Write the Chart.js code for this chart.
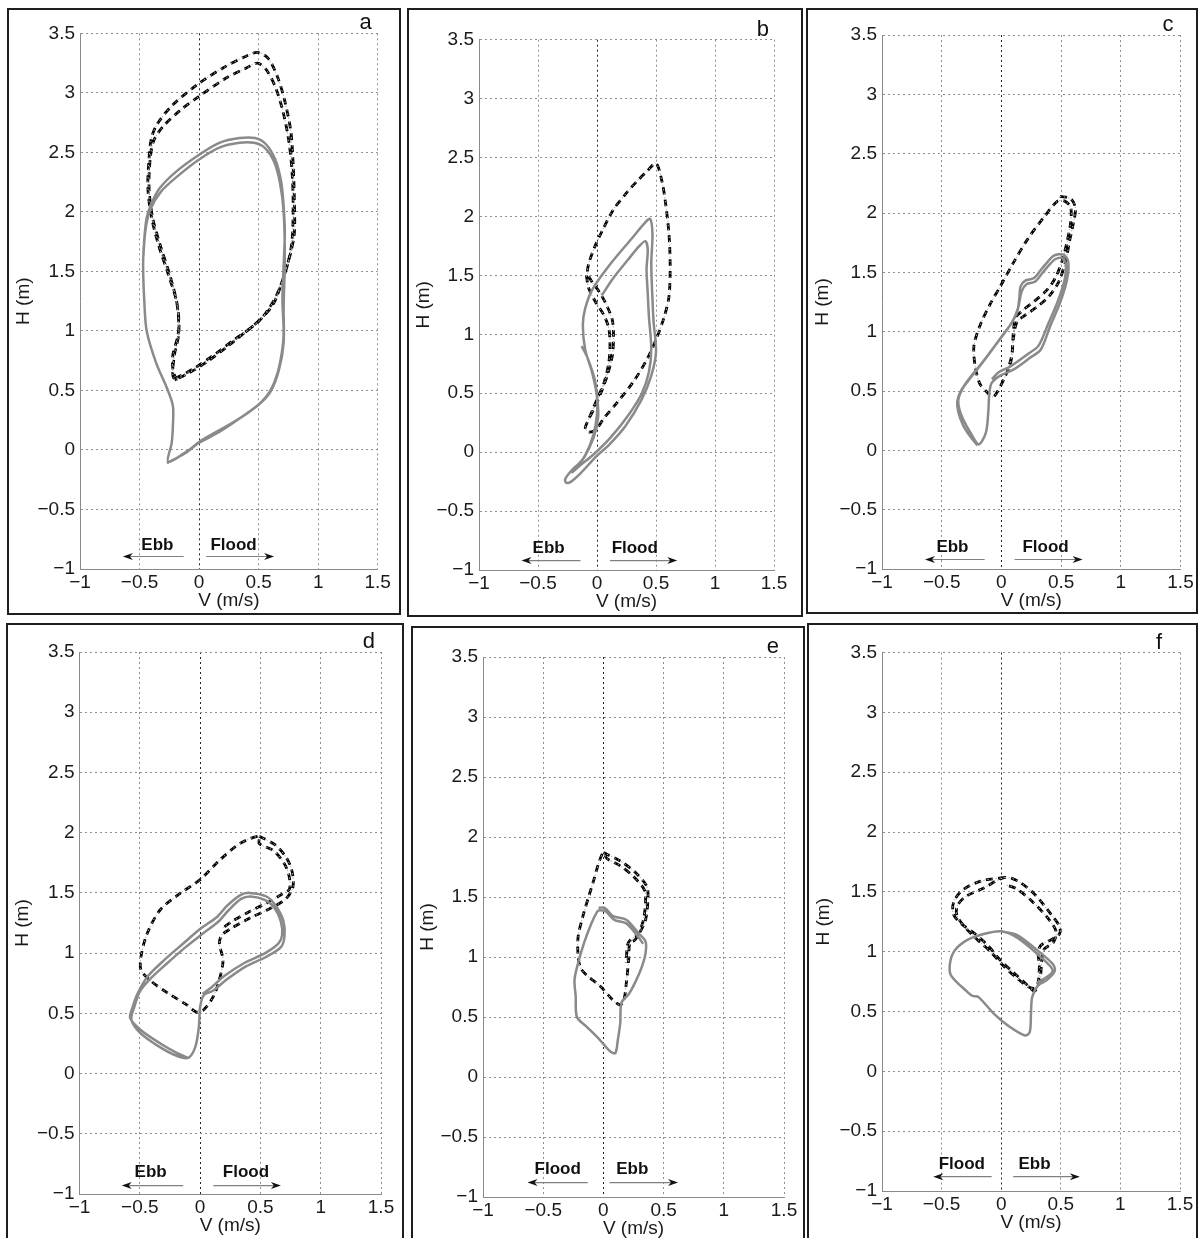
<!DOCTYPE html>
<html>
<head>
<meta charset="utf-8">
<script src="https://cdn.jsdelivr.net/npm/chart.js@4.4.1/dist/chart.umd.min.js"></script>
<style>
  body { margin: 0; background: #fff; width: 1203px; height: 1238px; position: relative; overflow: hidden; }
  canvas { position: absolute; }
  .frame { position: absolute; border: 2px solid #1e1e1e; box-sizing: border-box; pointer-events: none; }
</style>
</head>
<body>
<canvas id="ca"></canvas><canvas id="cb"></canvas><canvas id="cc"></canvas>
<canvas id="cd"></canvas><canvas id="ce"></canvas><canvas id="cf"></canvas>
<div class="frame" style="left:7px;top:8px;width:394px;height:607px"></div>
<div class="frame" style="left:407px;top:8px;width:396px;height:609px"></div>
<div class="frame" style="left:806px;top:8px;width:392px;height:606px"></div>
<div class="frame" style="left:6px;top:623px;width:398px;height:630px"></div>
<div class="frame" style="left:411px;top:626px;width:394px;height:630px"></div>
<div class="frame" style="left:807px;top:623px;width:391px;height:630px"></div>
<script>
// tick labels
const xTicks = ['−1', '−0.5', '0', '0.5', '1', '1.5'];
const yTicks = ['−1', '−0.5', '0', '0.5', '1', '1.5', '2', '2.5', '3', '3.5'];

// each curve is [V (m/s), H (m)]
// panel a
const aGray = [[-0.27,-0.11],[-0.12,-0.03],[0.0,0.06],[0.15,0.14],[0.29,0.23],[0.42,0.32],[0.52,0.4],[0.6,0.5],[0.66,0.65],[0.7,0.85],[0.71,1.0],[0.7,1.27],[0.71,1.55],[0.72,1.82],[0.71,2.05],[0.69,2.25],[0.64,2.44],[0.56,2.57],[0.47,2.62],[0.34,2.62],[0.17,2.58],[0.0,2.48],[-0.19,2.34],[-0.33,2.2],[-0.4,2.07],[-0.44,1.95],[-0.46,1.77],[-0.47,1.55],[-0.46,1.25],[-0.44,1.0],[-0.36,0.73],[-0.27,0.52],[-0.22,0.37],[-0.22,0.2],[-0.23,0.06],[-0.26,-0.1],[-0.1,-0.01],[0.02,0.08],[0.3,0.24],[0.5,0.38],[0.6,0.49],[0.67,0.67],[0.71,0.9],[0.71,1.2],[0.72,1.6],[0.71,2.0],[0.68,2.24],[0.63,2.42],[0.55,2.54],[0.46,2.58],[0.34,2.58],[0.17,2.54],[0.0,2.44],[-0.18,2.3],[-0.32,2.17],[-0.41,2.02],[-0.45,1.85],[-0.47,1.6]];
const aBlack = [[-0.19,0.58],[-0.22,0.68],[-0.22,0.8],[-0.18,0.95],[-0.17,1.05],[-0.19,1.25],[-0.26,1.48],[-0.34,1.72],[-0.4,1.96],[-0.43,2.2],[-0.42,2.45],[-0.4,2.62],[-0.35,2.74],[-0.22,2.9],[0.0,3.08],[0.22,3.22],[0.4,3.31],[0.49,3.34],[0.58,3.29],[0.66,3.13],[0.72,2.93],[0.77,2.68],[0.79,2.4],[0.8,2.1],[0.8,1.82],[0.76,1.62],[0.7,1.42],[0.62,1.22],[0.5,1.08],[0.4,1.0],[0.24,0.87],[0.08,0.75],[-0.08,0.65],[-0.21,0.6],[-0.21,0.78],[-0.17,0.98],[-0.18,1.2],[-0.24,1.45],[-0.32,1.7],[-0.39,1.95],[-0.42,2.2],[-0.41,2.45],[-0.38,2.6],[-0.3,2.72],[-0.15,2.86],[0.0,2.97],[0.22,3.12],[0.4,3.21],[0.49,3.25],[0.56,3.2],[0.64,3.05],[0.7,2.86],[0.75,2.62],[0.78,2.35],[0.79,2.05],[0.78,1.75],[0.74,1.55],[0.66,1.32],[0.56,1.15],[0.44,1.03],[0.3,0.93],[0.14,0.81],[-0.05,0.68],[-0.2,0.6]];

// panel b
const bGray = [[0.04,1.33],[0.14,1.48],[0.26,1.63],[0.36,1.75],[0.41,1.79],[0.43,1.72],[0.42,1.55],[0.43,1.35],[0.44,1.15],[0.46,0.88],[0.44,0.68],[0.38,0.5],[0.27,0.32],[0.12,0.13],[-0.03,-0.02],[-0.14,-0.11],[-0.21,-0.17],[-0.17,-0.12],[-0.1,-0.03],[-0.03,0.15],[0.0,0.32],[0.0,0.47],[-0.04,0.67],[-0.1,0.87],[-0.12,1.08],[-0.1,1.22],[-0.04,1.38],[0.1,1.58],[0.3,1.82],[0.4,1.94],[0.45,1.98],[0.47,1.85],[0.46,1.6],[0.47,1.3],[0.48,1.1],[0.5,0.85],[0.46,0.65],[0.38,0.45],[0.24,0.22],[0.1,0.06],[0.0,-0.03],[-0.14,-0.18],[-0.22,-0.25],[-0.26,-0.26],[-0.27,-0.23],[-0.22,-0.16],[-0.12,-0.06],[-0.03,0.12],[0.01,0.3],[0.0,0.48],[-0.02,0.62],[-0.08,0.8],[-0.13,0.9]];
const bBlack = [[-0.09,1.5],[-0.07,1.39],[-0.01,1.27],[0.06,1.16],[0.1,1.05],[0.11,0.92],[0.1,0.76],[0.06,0.59],[0.0,0.45],[-0.04,0.35],[-0.08,0.26],[-0.1,0.2],[-0.07,0.17],[-0.01,0.19],[0.06,0.29],[0.17,0.42],[0.31,0.6],[0.43,0.8],[0.51,0.98],[0.57,1.15],[0.61,1.32],[0.62,1.58],[0.61,1.85],[0.58,2.12],[0.55,2.3],[0.5,2.45],[0.42,2.38],[0.34,2.3],[0.25,2.2],[0.14,2.06],[0.05,1.89],[-0.02,1.74],[-0.07,1.6],[-0.08,1.52],[-0.04,1.44],[0.02,1.36],[0.08,1.25],[0.13,1.12],[0.14,0.98],[0.13,0.82],[0.09,0.66],[0.04,0.52],[-0.01,0.4],[-0.06,0.3]];

// panel c
const cGray = [[-0.2,0.04],[-0.27,0.13],[-0.32,0.21],[-0.36,0.32],[-0.37,0.41],[-0.34,0.5],[-0.26,0.61],[-0.18,0.71],[-0.09,0.83],[-0.01,0.94],[0.07,1.05],[0.13,1.16],[0.15,1.28],[0.16,1.38],[0.2,1.43],[0.27,1.45],[0.33,1.52],[0.38,1.58],[0.44,1.64],[0.52,1.65],[0.56,1.59],[0.55,1.44],[0.49,1.24],[0.41,1.05],[0.33,0.85],[0.24,0.78],[0.1,0.68],[-0.01,0.63],[-0.08,0.57],[-0.1,0.49],[-0.11,0.32],[-0.13,0.15],[-0.19,0.05],[-0.26,0.15],[-0.31,0.24],[-0.35,0.34],[-0.36,0.43],[-0.32,0.53],[-0.25,0.63],[-0.16,0.74],[-0.07,0.86],[0.01,0.97],[0.09,1.08],[0.14,1.2],[0.17,1.34],[0.21,1.4],[0.28,1.42],[0.34,1.49],[0.39,1.55],[0.45,1.61],[0.51,1.62],[0.54,1.57],[0.53,1.44],[0.47,1.25],[0.39,1.06],[0.31,0.88],[0.22,0.81],[0.08,0.71],[-0.02,0.66],[-0.08,0.6]];
const cBlack = [[0.49,2.14],[0.58,2.12],[0.62,2.04],[0.6,1.9],[0.57,1.76],[0.54,1.6],[0.48,1.42],[0.4,1.3],[0.3,1.21],[0.2,1.14],[0.13,1.08],[0.1,0.94],[0.08,0.75],[0.03,0.62],[-0.03,0.5],[-0.07,0.45],[-0.12,0.49],[-0.18,0.56],[-0.22,0.71],[-0.23,0.88],[-0.18,1.05],[-0.09,1.24],[-0.01,1.38],[0.1,1.58],[0.22,1.78],[0.36,1.97],[0.47,2.1],[0.53,2.1],[0.58,2.05],[0.58,1.92],[0.55,1.76],[0.51,1.6],[0.45,1.45],[0.38,1.35],[0.28,1.26],[0.18,1.18],[0.12,1.12],[0.1,1.0],[0.09,0.82],[0.05,0.66]];

// panel d
const dGray = [[-0.1,0.13],[-0.19,0.17],[-0.33,0.25],[-0.49,0.36],[-0.58,0.46],[-0.56,0.55],[-0.52,0.66],[-0.44,0.8],[-0.3,0.94],[-0.14,1.08],[0.0,1.2],[0.14,1.3],[0.22,1.39],[0.33,1.48],[0.41,1.5],[0.55,1.47],[0.63,1.39],[0.69,1.27],[0.7,1.14],[0.67,1.05],[0.55,0.97],[0.38,0.89],[0.22,0.78],[0.11,0.69],[0.03,0.65],[0.0,0.55],[-0.01,0.39],[-0.04,0.22],[-0.1,0.13],[-0.2,0.15],[-0.35,0.23],[-0.5,0.34],[-0.57,0.45],[-0.54,0.57],[-0.5,0.68],[-0.42,0.78],[-0.28,0.91],[-0.12,1.05],[0.02,1.16],[0.15,1.26],[0.24,1.36],[0.34,1.45],[0.42,1.47],[0.54,1.44],[0.62,1.37],[0.67,1.26],[0.68,1.15],[0.65,1.08],[0.54,1.0],[0.37,0.92],[0.2,0.81],[0.1,0.72],[0.02,0.66]];
const dBlack = [[0.49,1.97],[0.62,1.9],[0.71,1.8],[0.76,1.69],[0.77,1.55],[0.71,1.45],[0.58,1.37],[0.41,1.29],[0.25,1.2],[0.18,1.15],[0.16,1.08],[0.19,0.94],[0.16,0.78],[0.11,0.64],[0.03,0.53],[-0.03,0.51],[-0.11,0.57],[-0.27,0.67],[-0.41,0.77],[-0.49,0.86],[-0.49,0.97],[-0.44,1.16],[-0.33,1.36],[-0.16,1.5],[0.0,1.61],[0.16,1.77],[0.33,1.91],[0.49,1.97],[0.49,1.91],[0.61,1.85],[0.7,1.74],[0.74,1.63],[0.74,1.53],[0.68,1.49],[0.56,1.42],[0.4,1.34],[0.26,1.26],[0.19,1.21]];

// panel e
const eGray = [[-0.04,1.41],[0.01,1.41],[0.08,1.34],[0.19,1.31],[0.29,1.2],[0.35,1.13],[0.35,1.03],[0.32,0.92],[0.26,0.78],[0.21,0.69],[0.15,0.62],[0.14,0.45],[0.12,0.31],[0.1,0.2],[0.06,0.21],[-0.03,0.31],[-0.14,0.42],[-0.22,0.5],[-0.23,0.67],[-0.24,0.81],[-0.21,0.95],[-0.16,1.12],[-0.1,1.28],[-0.05,1.38],[-0.03,1.39],[0.02,1.38],[0.09,1.31],[0.19,1.28],[0.28,1.18],[0.33,1.11]];
const eBlack = [[0.0,1.87],[0.14,1.8],[0.26,1.71],[0.36,1.59],[0.37,1.48],[0.35,1.31],[0.3,1.2],[0.26,1.14],[0.22,1.12],[0.21,0.98],[0.19,0.78],[0.17,0.64],[0.14,0.6],[0.08,0.64],[-0.03,0.76],[-0.14,0.85],[-0.19,0.91],[-0.21,1.01],[-0.21,1.17],[-0.17,1.34],[-0.12,1.51],[-0.08,1.64],[-0.04,1.78],[0.0,1.87],[0.03,1.82],[0.14,1.76],[0.25,1.67],[0.34,1.56],[0.35,1.46],[0.33,1.3],[0.28,1.18],[0.23,1.15],[0.2,1.1],[0.19,0.95]];

// panel f
const fGray = [[0.0,1.17],[0.13,1.14],[0.28,1.03],[0.43,0.9],[0.45,0.84],[0.38,0.76],[0.31,0.72],[0.26,0.62],[0.25,0.49],[0.24,0.33],[0.2,0.3],[0.06,0.38],[-0.06,0.48],[-0.19,0.62],[-0.24,0.63],[-0.28,0.66],[-0.42,0.8],[-0.43,0.9],[-0.39,1.01],[-0.28,1.1],[-0.14,1.15],[0.0,1.17],[0.13,1.12],[0.27,1.01],[0.41,0.88],[0.43,0.83],[0.37,0.78],[0.3,0.74]];
const fBlack = [[0.03,1.62],[-0.17,1.59],[-0.33,1.51],[-0.4,1.41],[-0.4,1.31],[-0.33,1.23],[-0.22,1.15],[-0.11,1.05],[0.0,0.92],[0.11,0.82],[0.22,0.72],[0.28,0.67],[0.31,0.74],[0.32,0.89],[0.31,0.98],[0.33,1.05],[0.42,1.1],[0.49,1.15],[0.49,1.21],[0.42,1.31],[0.28,1.48],[0.14,1.59],[0.03,1.62],[-0.15,1.53],[-0.3,1.46],[-0.37,1.38],[-0.37,1.3],[-0.3,1.2],[-0.2,1.1],[-0.09,1.0],[0.02,0.88],[0.13,0.78],[0.24,0.7],[0.3,0.7],[0.33,0.8],[0.34,0.92],[0.36,1.02],[0.44,1.08],[0.46,1.17],[0.4,1.27],[0.26,1.42],[0.12,1.53],[0.03,1.56]];

// direction arrows under each plot (in data units)
const arrowNotes = {
  a: { textH: -0.80, arrowH: -0.895, items: [{ text: 'Ebb', at: -0.35, from: -0.13, to: -0.64 }, { text: 'Flood', at: 0.29, from: 0.06, to: 0.63 }] },
  b: { textH: -0.82, arrowH: -0.92, items: [{ text: 'Ebb', at: -0.41, from: -0.14, to: -0.64 }, { text: 'Flood', at: 0.32, from: 0.11, to: 0.68 }] },
  c: { textH: -0.82, arrowH: -0.92, items: [{ text: 'Ebb', at: -0.41, from: -0.14, to: -0.64 }, { text: 'Flood', at: 0.37, from: 0.11, to: 0.68 }] },
  d: { textH: -0.82, arrowH: -0.93, items: [{ text: 'Ebb', at: -0.41, from: -0.14, to: -0.65 }, { text: 'Flood', at: 0.38, from: 0.11, to: 0.67 }] },
  e: { textH: -0.77, arrowH: -0.88, items: [{ text: 'Flood', at: -0.38, from: -0.13, to: -0.63 }, { text: 'Ebb', at: 0.24, from: 0.05, to: 0.62 }] },
  f: { textH: -0.78, arrowH: -0.88, items: [{ text: 'Flood', at: -0.33, from: -0.08, to: -0.57 }, { text: 'Ebb', at: 0.28, from: 0.1, to: 0.66 }] }
};

// page layout: frame box and plot area in page pixels
const layout = [
  { id: 'a', box: [7, 8, 401], plot: [80, 33.3, 377.7, 569.3], letterDx: -6, gray: aGray, black: aBlack },
  { id: 'b', box: [407, 8, 803], plot: [479, 39.7, 774, 570.7], letterDx: -5, gray: bGray, black: bBlack },
  { id: 'c', box: [806, 8, 1198], plot: [882, 35, 1180.5, 569.5], letterDx: -7, gray: cGray, black: cBlack },
  { id: 'd', box: [6, 623, 404], plot: [79.5, 652, 381, 1194], letterDx: -6, gray: dGray, black: dBlack },
  { id: 'e', box: [411, 626, 805], plot: [483, 657, 784, 1197], letterDx: -5, gray: eGray, black: eBlack },
  { id: 'f', box: [807, 623, 1198], plot: [882, 652.5, 1180, 1191], letterDx: -18, gray: fGray, black: fBlack }
];

const FONT = '"Liberation Sans", Arial, Helvetica, sans-serif';
const X_AXIS_H = 46;

const panelNotes = {
  id: 'panelNotes',
  afterDatasetsDraw(chart, args, opts) {
    const ctx = chart.ctx;
    const xs = chart.scales.x, ys = chart.scales.y;
    const area = chart.chartArea;
    ctx.save();
    // panel letter
    ctx.fillStyle = '#111';
    ctx.font = '22px ' + FONT;
    ctx.textAlign = 'right';
    ctx.textBaseline = 'alphabetic';
    ctx.fillText(opts.letter, area.right + opts.letterDx, area.top - 4);
    // Ebb / Flood arrows
    const n = opts.notes;
    const ty = ys.getPixelForValue(n.textH);
    const ay = ys.getPixelForValue(n.arrowH);
    for (const it of n.items) {
      ctx.font = 'bold 17px ' + FONT;
      ctx.textAlign = 'center';
      ctx.textBaseline = 'middle';
      ctx.fillStyle = '#111';
      ctx.fillText(it.text, xs.getPixelForValue(it.at), ty);
      const x1 = xs.getPixelForValue(it.from), x2 = xs.getPixelForValue(it.to);
      const dir = Math.sign(x2 - x1);
      ctx.strokeStyle = '#808080';
      ctx.lineWidth = 1.2;
      ctx.beginPath();
      ctx.moveTo(x1, ay);
      ctx.lineTo(x2 - dir * 4, ay);
      ctx.stroke();
      ctx.fillStyle = '#111';
      ctx.beginPath();
      ctx.moveTo(x2, ay);
      ctx.lineTo(x2 - dir * 10, ay - 3.5);
      ctx.lineTo(x2 - dir * 7, ay);
      ctx.lineTo(x2 - dir * 10, ay + 3.5);
      ctx.closePath();
      ctx.fill();
    }
    ctx.restore();
  }
};

function pts(pairs) {
  return pairs.map(p => ({ x: p[0], y: p[1] }));
}

function drawPanel(p) {
  const canvas = document.getElementById('c' + p.id);
  const [bl, bt, br] = p.box;
  const [pl, pt, pr, pb] = p.plot;
  const w = br - bl;
  const h = pb + X_AXIS_H - bt;
  canvas.width = w;
  canvas.height = h;
  canvas.style.left = bl + 'px';
  canvas.style.top = bt + 'px';

  const tickFont = { family: FONT, size: 19 };
  const gridDash = [2, 3];

  new Chart(canvas, {
    type: 'scatter',
    data: {
      datasets: [
        { data: pts(p.gray), showLine: true, borderColor: '#8a8a8a', borderWidth: 2.5, pointRadius: 0, tension: 0.3 },
        { data: pts(p.black), showLine: true, borderColor: '#b0b0b0', borderWidth: 1, borderDash: [1.5, 2.5], pointRadius: 0, tension: 0.3 },
        { data: pts(p.black), showLine: true, borderColor: '#000', borderWidth: 2.8, borderDash: [7, 5], pointRadius: 0, tension: 0.3 }
      ]
    },
    options: {
      responsive: false,
      animation: false,
      events: [],
      layout: { padding: { left: 0, top: pt - bt, right: br - pr, bottom: 0 } },
      plugins: {
        legend: { display: false },
        tooltip: { enabled: false },
        panelNotes: { letter: p.id, letterDx: p.letterDx, notes: arrowNotes[p.id] }
      },
      scales: {
        x: {
          type: 'linear', min: -1, max: 1.5,
          afterFit: s => { s.height = X_AXIS_H; },
          ticks: { stepSize: 0.5, autoSkip: false, maxRotation: 0, padding: 2, color: '#1a1a1a', font: tickFont,
                   callback: (v, i) => xTicks[i] },
          grid: { drawTicks: false, lineWidth: 1,
                  color: c => (c.tick && c.tick.value === 0) ? '#222' : '#8f8f8f' },
          border: { display: true, color: '#8a8a8a', width: 1, dash: gridDash },
          title: { display: true, text: 'V (m/s)', color: '#1a1a1a', font: { family: FONT, size: 19 }, padding: { top: 0, bottom: 3 } }
        },
        y: {
          type: 'linear', min: -1, max: 3.5,
          afterFit: s => { s.width = pl - bl; },
          ticks: { stepSize: 0.5, autoSkip: false, padding: 5, color: '#1a1a1a', font: tickFont,
                   callback: (v, i) => yTicks[i] },
          grid: { drawTicks: false, lineWidth: 1, color: '#8f8f8f' },
          border: { display: true, color: '#8a8a8a', width: 1, dash: gridDash },
          title: { display: true, text: 'H (m)', color: '#1a1a1a', font: { family: FONT, size: 19 }, padding: { top: 5, bottom: 0 } }
        }
      }
    },
    plugins: [panelNotes]
  });
}

layout.forEach(drawPanel);
</script>
</body>
</html>
